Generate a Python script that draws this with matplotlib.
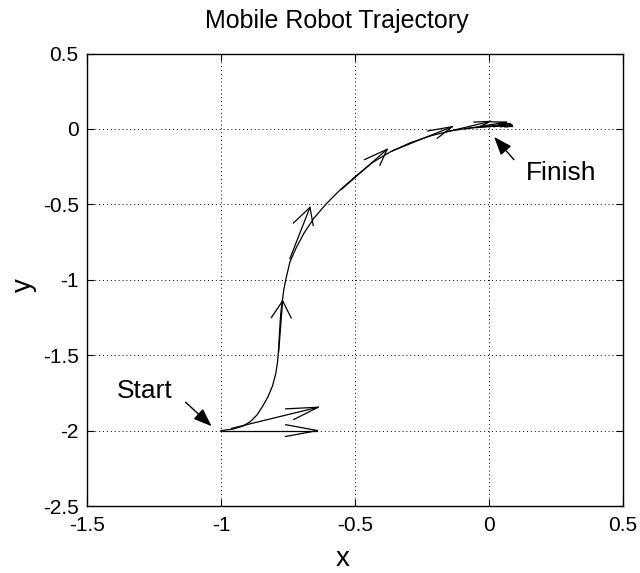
import matplotlib
matplotlib.use("Agg")
import matplotlib.pyplot as plt
import numpy as np

plt.rcParams['font.family'] = ['Liberation Sans', 'DejaVu Sans']

# Robot trajectory (x, y)
traj_x = [-1.000, -0.955, -0.918, -0.890, -0.866, -0.845, -0.825, -0.808, -0.796, -0.789,
          -0.785, -0.781, -0.777, -0.772, -0.765, -0.757, -0.743, -0.720, -0.690, -0.653,
          -0.608, -0.556, -0.500, -0.437, -0.369, -0.295, -0.220, -0.146, -0.071, 0.000, 0.030]
traj_y = [-2.000, -1.990, -1.970, -1.940, -1.897, -1.840, -1.777, -1.705, -1.625, -1.545,
          -1.455, -1.330, -1.220, -1.148, -1.060, -0.989, -0.883, -0.790, -0.690, -0.591,
          -0.498, -0.405, -0.318, -0.225, -0.153, -0.093, -0.047, -0.014, 0.006, 0.015, 0.020]

# Heading / velocity arrows (quiver): base and components
q_x = [-1.000, -0.960, -0.785, -0.743, -0.550, -0.360, -0.160, -0.090, -0.040, 0.000, 0.020, 0.040]
q_y = [-2.000, -1.985, -1.480, -0.860, -0.400, -0.145, -0.020, 0.000, 0.010, 0.015, 0.018, 0.020]
q_u = [0.360, 0.323, 0.015, 0.075, 0.170, 0.223, 0.166, 0.155, 0.120, 0.085, 0.065, 0.045]
q_v = [0.000, 0.140, 0.340, 0.340, 0.265, 0.160, 0.070, 0.045, 0.025, 0.012, 0.004, 0.000]

x_ticks = [-1.5, -1, -0.5, 0, 0.5]
y_ticks = [-2.5, -2, -1.5, -1, -0.5, 0, 0.5]

fig = plt.figure(figsize=(6.40, 5.73), dpi=100)
ax = fig.add_axes([87/640, 1-506/573, (623-87)/640, (506-53.5)/573])

lw = 0.9
ax.plot(traj_x, traj_y, color='k', lw=lw)

alpha, beta = 0.33, 0.33
for x, y, u, v in zip(q_x, q_y, q_u, q_v):
    tx, ty = x + u, y + v
    ax.plot([x, tx], [y, ty], color='k', lw=lw)
    hx = [tx - alpha*(u + beta*v), tx, tx - alpha*(u - beta*v)]
    hy = [ty - alpha*(v - beta*u), ty, ty - alpha*(v + beta*u)]
    ax.plot(hx, hy, color='k', lw=lw)

ax.set_xlim(-1.5, 0.5)
ax.set_ylim(-2.5, 0.5)
ax.set_xticks(x_ticks)
ax.set_yticks(y_ticks)
ax.set_xticklabels(['-1.5', '-1', '-0.5', '0', '0.5'])
ax.set_yticklabels(['-2.5', '-2', '-1.5', '-1', '-0.5', '0', '0.5'])
ax.grid(True, linestyle=(0, (1, 3)), color='k', linewidth=0.7)
ax.tick_params(direction='in', length=5, width=0.8, top=True, right=True,
               labelsize=15)
ax.tick_params(axis='x', pad=7)
ax.tick_params(axis='y', pad=6)
for s in ax.spines.values():
    s.set_linewidth(1.0)

fig.text(337/640, 1-28/573, 'Mobile Robot Trajectory', ha='center', va='baseline', fontsize=18)
fig.text(343/640, 1-566/573, 'x', ha='center', va='baseline', fontsize=20)
fig.text(24/640, 1-285/573, 'y', ha='center', va='center', fontsize=20, rotation=90)

arrow_kw = dict(arrowstyle='-|>,head_length=0.8,head_width=0.3', color='k', lw=1.0,
                mutation_scale=14, shrinkA=0, shrinkB=0)
ax.annotate('', xy=(-1.035, -1.971), xytext=(-1.132, -1.812), arrowprops=arrow_kw)
ax.text(-1.389, -1.786, 'Start', ha='left', va='baseline', fontsize=19)
ax.annotate('', xy=(0.019, -0.053), xytext=(0.093, -0.204), arrowprops=arrow_kw)
ax.text(0.138, -0.336, 'Finish', ha='left', va='baseline', fontsize=19)

fig.savefig('out.png', dpi=100)
